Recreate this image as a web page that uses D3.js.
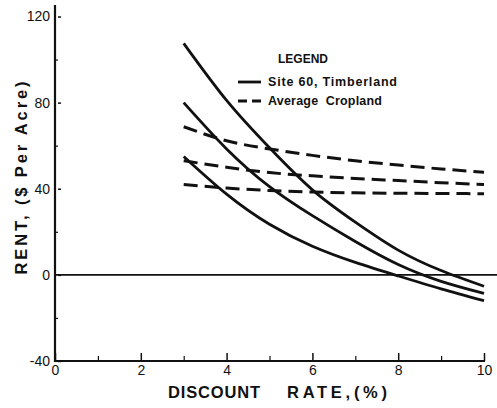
<!DOCTYPE html>
<html>
<head>
<meta charset="utf-8">
<script src="https://cdn.jsdelivr.net/npm/d3@7"></script>
<style>
  html, body { margin: 0; padding: 0; background: #fff; }
  svg { display: block; }
  text { font-family: "Liberation Sans", Arial, sans-serif; fill: #111; }
</style>
</head>
<body>
<svg id="chart" width="497" height="408"></svg>
<script>
// ---- data ----
const rates = [3, 4, 5, 6, 7, 8, 9, 10];
const timberHigh = [107.5, 81, 59, 39.5, 24.5, 11.5, 2, -5.3];
const timberMid  = [80, 58.5, 41, 27.5, 15.5, 4.8, -3, -8.6];
const timberLow  = [55, 37.5, 23.5, 13.3, 5.8, -0.5, -6.5, -12];
const cropHigh = [68.8, 62.3, 58.5, 55.5, 53, 51, 49.2, 47.7];
const cropMid  = [53, 50, 47.5, 46, 44.8, 43.8, 42.8, 42];
const cropLow  = [42, 40.3, 39.2, 38.5, 38.1, 37.9, 37.8, 37.7];
const xMajor = [0, 2, 4, 6, 8, 10];
const xMinor = [1, 3, 5, 7, 9];
const yMajor = [-40, 0, 40, 80, 120];
const yMinor = [-20, 20, 60, 100];
const legendLabels = ["Site 60, Timberland", "Average  Cropland"];

// ---- drawing ----
const svg = d3.select("#chart");
const x = d3.scaleLinear().domain([0, 10]).range([55, 484]);
const y = d3.scaleLinear().domain([-40, 120]).range([361, 16.5]);

// zero line
svg.append("line")
  .attr("x1", x(0)).attr("x2", 497)
  .attr("y1", y(0)).attr("y2", y(0))
  .attr("stroke", "#111").attr("stroke-width", 1.6);

// y axis
const gy = svg.append("g").attr("transform", `translate(${x(0)},0)`);
gy.call(d3.axisLeft(y).tickValues(yMajor).tickSize(-6).tickPadding(5).tickFormat(d3.format("d")));
gy.select(".domain").remove();
gy.selectAll(".tick line").attr("stroke", "#111").attr("stroke-width", 1.5).attr("x1", 3);
gy.selectAll(".tick text").attr("font-size", 14).attr("fill", "#111")
  .attr("font-family", "Liberation Sans, Arial, sans-serif").text(d => d < 0 ? "-" + Math.abs(d) : d);
const gyMinor = svg.append("g").attr("transform", `translate(${x(0)},0)`);
gyMinor.call(d3.axisLeft(y).tickValues(yMinor).tickSize(-3).tickFormat(""));
gyMinor.select(".domain").remove();
gyMinor.selectAll(".tick line").attr("stroke", "#111").attr("stroke-width", 1.2);

// x axis
const gx = svg.append("g").attr("transform", `translate(0,${y(-40)})`);
gx.call(d3.axisBottom(x).tickValues(xMajor).tickSize(-8).tickPadding(4).tickFormat(d3.format("d")));
gx.select(".domain").remove();
gx.selectAll(".tick line").attr("stroke", "#111").attr("stroke-width", 1.5);
gx.selectAll(".tick text").attr("font-size", 14).attr("fill", "#111")
  .attr("font-family", "Liberation Sans, Arial, sans-serif");
const gxMinor = svg.append("g").attr("transform", `translate(0,${y(-40)})`);
gxMinor.call(d3.axisBottom(x).tickValues(xMinor).tickSize(-5).tickFormat(""));
gxMinor.select(".domain").remove();
gxMinor.selectAll(".tick line").attr("stroke", "#111").attr("stroke-width", 1.2);

// axis lines
svg.append("line").attr("x1", x(0)).attr("x2", x(0)).attr("y1", 5).attr("y2", y(-40) + 1)
  .attr("stroke", "#111").attr("stroke-width", 2.2);
svg.append("line").attr("x1", x(0) - 1).attr("x2", x(10) + 1).attr("y1", y(-40)).attr("y2", y(-40))
  .attr("stroke", "#111").attr("stroke-width", 2.2);

// curves
const line = d3.line().x(d => x(d[0])).y(d => y(d[1])).curve(d3.curveNatural);
const solid = [timberHigh, timberMid, timberLow];
const dashed = [cropHigh, cropMid, cropLow];
solid.forEach(s => {
  svg.append("path").datum(rates.map((r, i) => [r, s[i]]))
    .attr("d", line).attr("fill", "none").attr("stroke", "#111").attr("stroke-width", 2.8);
});
dashed.forEach(s => {
  svg.append("path").datum(rates.map((r, i) => [r, s[i]]))
    .attr("d", line).attr("fill", "none").attr("stroke", "#111").attr("stroke-width", 3)
    .attr("stroke-dasharray", "14,7");
});

// legend
svg.append("text").attr("x", 278).attr("y", 63).attr("font-size", 12).attr("font-weight", "bold")
  .text("LEGEND");
svg.append("line").attr("x1", 238).attr("x2", 261).attr("y1", 82).attr("y2", 82)
  .attr("stroke", "#111").attr("stroke-width", 2.8);
svg.append("line").attr("x1", 238).attr("x2", 261).attr("y1", 101).attr("y2", 101)
  .attr("stroke", "#111").attr("stroke-width", 2.8).attr("stroke-dasharray", "9,5");
svg.append("text").attr("x", 268).attr("y", 86).attr("font-size", 12.5).attr("font-weight", "bold")
  .attr("textLength", 129).attr("lengthAdjust", "spacing").text(legendLabels[0]);
svg.append("text").attr("x", 268).attr("y", 105).attr("font-size", 12.5).attr("font-weight", "bold")
  .style("white-space", "pre")
  .attr("textLength", 114).attr("lengthAdjust", "spacing").text(legendLabels[1]);

// axis titles
const xt = svg.append("text").attr("y", 398).attr("font-size", 16.5).attr("font-weight", "bold");
xt.append("tspan").attr("x", 168).attr("textLength", 92).attr("lengthAdjust", "spacing").text("DISCOUNT");
xt.append("tspan").attr("x", 287).attr("textLength", 100).attr("lengthAdjust", "spacing").text("RATE,(%)");

svg.append("text")
  .attr("transform", "translate(27,178) rotate(-90)")
  .attr("text-anchor", "middle")
  .attr("font-size", 16.5).attr("font-weight", "bold")
  .attr("textLength", 193).attr("lengthAdjust", "spacing")
  .style("white-space", "pre")
  .text("RENT, ($ Per Acre)");
</script>
</body>
</html>
